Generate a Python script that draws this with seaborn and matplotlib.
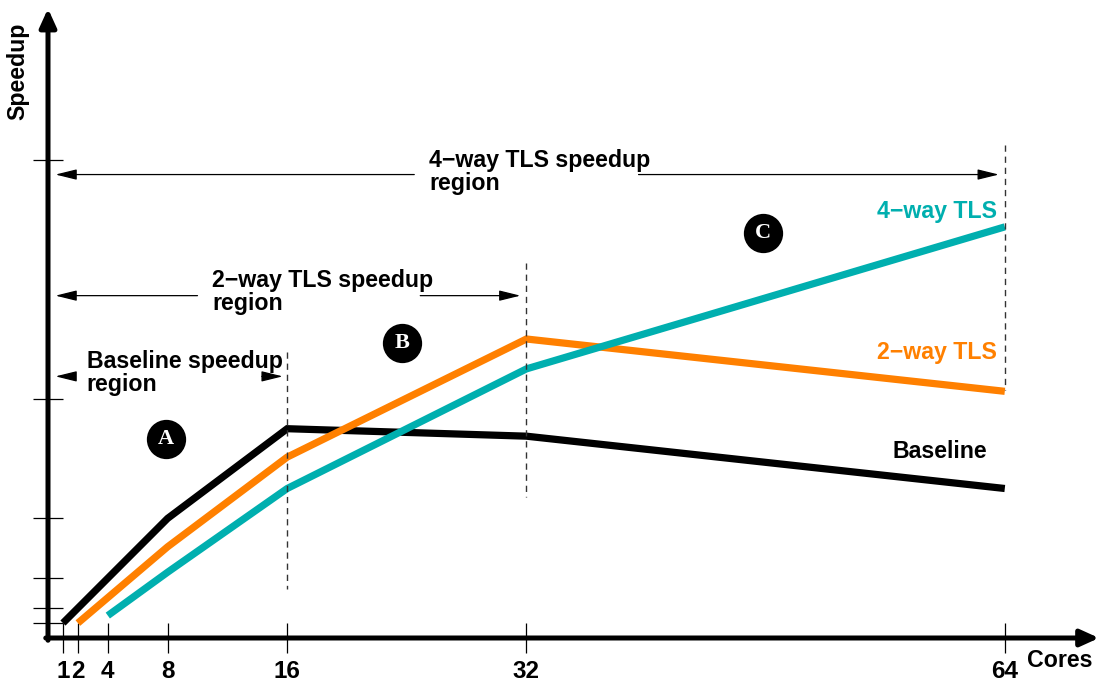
import matplotlib
matplotlib.use("Agg")
import matplotlib.pyplot as plt
import seaborn as sns
import pandas as pd

# ---- data ----
baseline_cores = [1, 8, 16, 32, 64]
baseline_speedup = [1.0, 8.0, 14.0, 13.5, 10.0]
tls2_cores = [2, 4, 8, 16, 32, 64]
tls2_speedup = [1.0, 2.7, 6.1, 12.1, 20.0, 16.5]
tls4_cores = [4, 8, 16, 32, 64]
tls4_speedup = [1.5, 4.4, 10.0, 18.0, 27.5]
series_names = ["Baseline", "2\u2212way TLS", "4\u2212way TLS"]
series_colors = ["#000000", "#FF8000", "#00AFAF"]
x_ticks = [1, 2, 4, 8, 16, 32, 64]
y_ticks = [1, 2, 4, 8, 16, 32]
region_texts = ["Baseline speedup\nregion", "2\u2212way TLS speedup\nregion", "4\u2212way TLS speedup\nregion"]
circle_labels = ["A", "B", "C"]

sns.set_style("white")
plt.rcParams["font.family"] = ["Liberation Sans", "DejaVu Sans"]
plt.rcParams["font.weight"] = "bold"
plt.rcParams["text.color"] = "black"
plt.rcParams["xtick.color"] = "black"
plt.rcParams["ytick.color"] = "black"

FS = 16.7

df = pd.concat([
    pd.DataFrame({"cores": baseline_cores, "speedup": baseline_speedup, "series": series_names[0]}),
    pd.DataFrame({"cores": tls2_cores, "speedup": tls2_speedup, "series": series_names[1]}),
    pd.DataFrame({"cores": tls4_cores, "speedup": tls4_speedup, "series": series_names[2]}),
])

fig = plt.figure(figsize=(11.03, 6.87), dpi=100)
ax = fig.add_axes([0, 0, 1, 1])
S = 14.95
ax.set_xlim(-48 / S, (1103 - 48) / S)
ax.set_ylim((638 - 687) / S, 638 / S)

sns.lineplot(data=df, x="cores", y="speedup", hue="series", hue_order=series_names,
             palette=dict(zip(series_names, series_colors)), linewidth=5.2,
             legend=False, ax=ax, estimator=None, sort=True)
for ln in ax.get_lines():
    ln.set_solid_capstyle("butt")
    ln.set_solid_joinstyle("miter")

# axes
for sp in ax.spines.values():
    sp.set_visible(False)
ax.spines["bottom"].set_position(("data", 0))
ax.spines["left"].set_position(("data", 0))
ax.set_xticks(x_ticks)
ax.set_xticklabels([str(t) for t in x_ticks], fontsize=17.5, fontweight="bold", color="black")
ax.set_yticks(y_ticks)
ax.set_yticklabels([])
ax.tick_params(axis="both", direction="inout", length=21.6, width=0.9, color="black",
               bottom=True, left=True, top=False, right=False)
ax.tick_params(axis="x", pad=5.0)
ax.set_xlabel("")
ax.set_ylabel("")
ax.grid(False)

ax_arrow = dict(arrowstyle="-|>,head_length=0.55,head_width=0.25", lw=3.6, color="black",
                shrinkA=0, shrinkB=0, mutation_scale=20)
ax.annotate("", xy=(70.3, 0), xytext=(-0.15, 0), arrowprops=ax_arrow)
ax.annotate("", xy=(0, 42.1), xytext=(0, -0.15), arrowprops=ax_arrow)
ax.text(65.5, -1.5, "Cores", fontsize=FS, fontweight="bold", ha="left", va="center")
ax.text(-2.0, 37.9, "Speedup", fontsize=FS, fontweight="bold", rotation=90, ha="center", va="center")

# dashed region boundaries
dash = dict(color="#333333", lw=1.0, linestyle=(0, (4.5, 3.5)))
ax.plot([16, 16], [19.1, 3.3], **dash)
ax.plot([32, 32], [25.1, 9.4], **dash)
ax.plot([64, 64], [33.0, 16.6], **dash)

# region arrows and texts
thin = dict(arrowstyle="-|>,head_length=0.65,head_width=0.16", lw=0.9, color="black",
            shrinkA=0, shrinkB=0, mutation_scale=20)
regions = [
    # (text x, text y, arrow y, left start, right start, right end)
    (2.6, 17.75, 17.5, 1.8, 14.3, 15.7),
    (11.0, 23.15, 22.9, 10.0, 24.9, 31.6),
    (25.5, 31.15, 31.0, 24.5, 39.5, 63.6),
]
for txt, (tx, ty, ay, l0, r0, r1) in zip(region_texts, regions):
    ax.text(tx, ty, txt, fontsize=FS, fontweight="bold", ha="left", va="center", linespacing=1.0)
    ax.annotate("", xy=(0.5, ay), xytext=(l0, ay), arrowprops=thin)
    ax.annotate("", xy=(r1, ay), xytext=(r0, ay), arrowprops=thin)

# series labels
ax.text(63.5, 28.5, series_names[2], color=series_colors[2], fontsize=FS, fontweight="bold",
        ha="right", va="center")
ax.text(63.5, 19.1, series_names[1], color=series_colors[1], fontsize=FS, fontweight="bold",
        ha="right", va="center")
ax.text(62.8, 12.5, series_names[0], color=series_colors[0], fontsize=FS, fontweight="bold",
        ha="right", va="center")

# circled letters
circ_x = [7.9, 23.7, 47.8]
circ_y = [13.3, 19.7, 27.1]
ax.scatter(circ_x, circ_y, s=800, color="black", zorder=5, linewidths=0)
for cx, cy, lab in zip(circ_x, circ_y, circle_labels):
    ax.text(cx, cy, lab, color="white", fontsize=16, fontweight="bold",
            family=["Liberation Serif", "DejaVu Serif"], ha="center", va="center", zorder=6)

fig.savefig("out.png", dpi=100)
